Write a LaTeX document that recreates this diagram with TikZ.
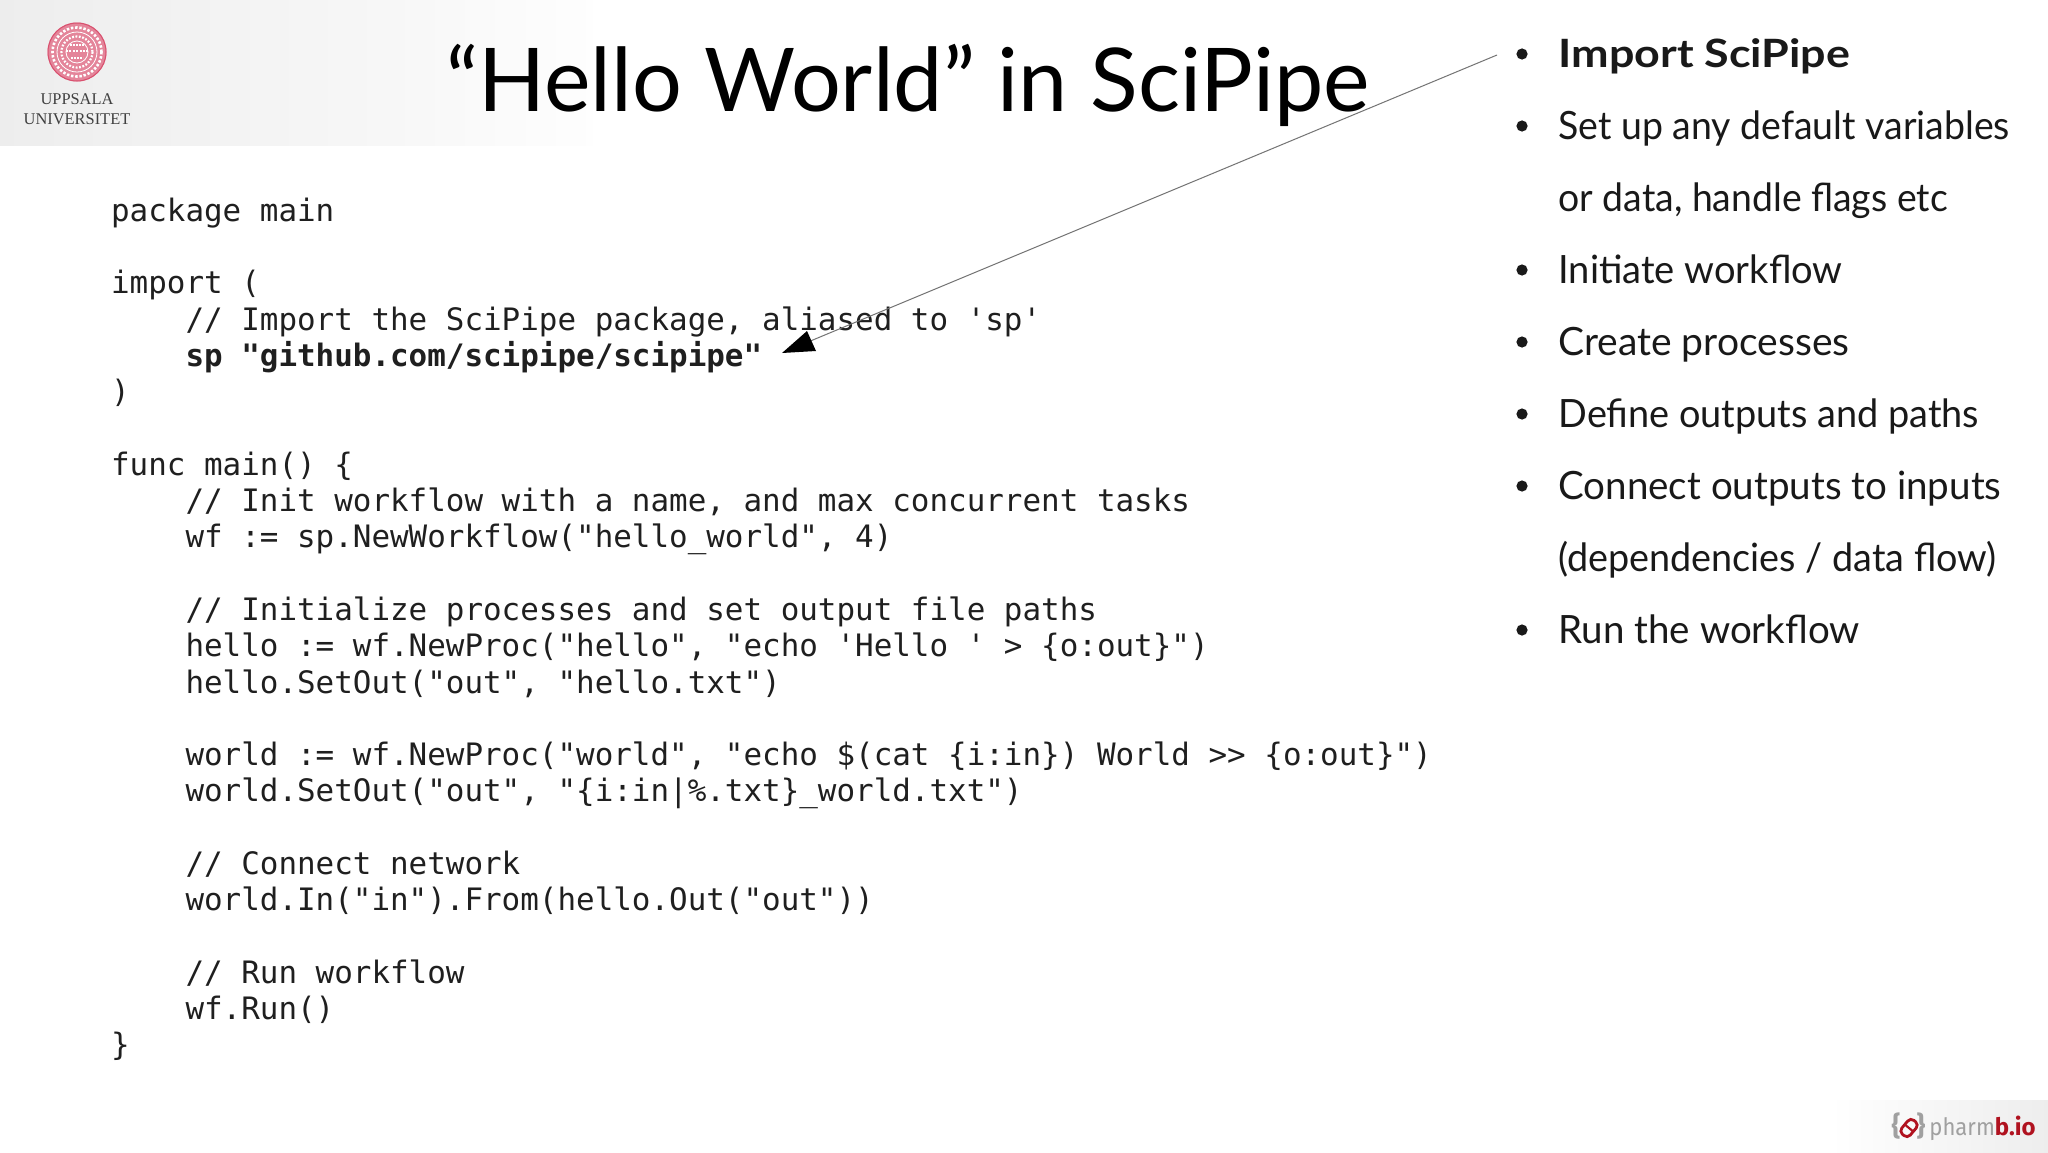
\documentclass[tikz,border=0pt]{standalone}
\usepackage{fontspec}
\usetikzlibrary{arrows.meta,shadings,fadings}
\setmainfont{Lato}
\newfontfamily\codefont{DejaVu Sans Mono}
\newfontfamily\uufont{Liberation Serif}
\newfontfamily\pbfont{Fira Sans}
\newcommand{\lw}[2]{{\addfontfeature{FakeStretch=#1}#2}}
\definecolor{seal}{HTML}{D9506E}
\definecolor{pbgray}{HTML}{A0A0A0}
\definecolor{pbred}{HTML}{B0121F}
\tikzset{
  code/.style={anchor=base west,inner sep=0pt,font=\codefont\fontsize{15.45}{18}\selectfont,text=black!88},
  bulletitem/.style={anchor=base west,inner sep=0pt,font=\fontsize{19.5}{24}\selectfont,text=black!90},
  bulletdot/.style={circle,fill=black!90,inner sep=0pt,minimum size=5.6pt},
  uutext/.style={inner sep=0pt,text=black!75,font=\uufont\fontsize{8.2}{10}\selectfont},
  pbtext/.style={anchor=base west,inner sep=0pt,font=\pbfont\fontsize{12}{14}\selectfont},
  pbbrace/.style={inner sep=0pt,anchor=base,text=pbgray,font=\pbfont\bfseries\fontsize{13.5}{15}\selectfont},
}
\begin{document}
\begin{tikzpicture}[x=0.5pt,y=-0.5pt]
\useasboundingbox (0,0) rectangle (2048,1152);
\fill[white] (0,0) rectangle (2048,1152);
% logo panel
\fill[left color=black!7,right color=black!3] (0,0) rectangle (400,145);
\fill[left color=black!3,right color=black!0.5] (400,0) rectangle (592,145);
\fill[left color=white,right color=black!7] (1830,1100) rectangle (2048,1152);
% seal
\fill[seal!70] (77,52) circle (29.5);
\draw[white,line width=1.3pt,dash pattern=on 1.2pt off 0.9pt] (77,52) circle (24.5);
\draw[seal,line width=0.5pt] (77,52) circle (29);
\draw[white,line width=0.4pt] (77,52) circle (20);
\draw[white,line width=1.1pt,dash pattern=on 0.9pt off 0.8pt] (77,52) circle (15.5);
\draw[white,line width=0.4pt] (77,52) circle (11);
\draw[white,line width=1pt,dash pattern=on 1pt off 0.7pt] (66,51) -- (88,51);
\draw[white,line width=0.7pt,dash pattern=on 0.8pt off 0.7pt] (77,51) ++(-7,-6) -- ++(14,0);
\draw[white,line width=0.7pt,dash pattern=on 0.8pt off 0.7pt] (77,51) ++(-6,7) -- ++(12,0);
\node[uutext] (uu1) at (77,99) {UPPSALA};
\node[uutext] (uu2) at (77,119) {UNIVERSITET};
% title
\node[anchor=base,inner sep=0pt,text=black,font=\fontsize{44}{50}\selectfont] (title) at (908,111) {“Hello World” in SciPipe};
% code
\node[code] (c0) at (110.7,221.3) {package main};
\node[code] (c2) at (110.7,293.9) {import (};
\node[code] (c3) at (110.7,330.2) {\ \ \ \ // Import the SciPipe package, aliased to 'sp'};
\node[code] (c4) at (110.7,366.5) {\ \ \ \ \textbf{sp "github.com/scipipe/scipipe"}};
\node[code] (c5) at (110.7,402.7) {)};
\node[code] (c7) at (110.7,475.3) {func main() \{};
\node[code] (c8) at (110.7,511.6) {\ \ \ \ // Init workflow with a name, and max concurrent tasks};
\node[code] (c9) at (110.7,547.9) {\ \ \ \ wf := sp.NewWorkflow("hello\_world", 4)};
\node[code] (c11) at (110.7,620.4) {\ \ \ \ // Initialize processes and set output file paths};
\node[code] (c12) at (110.7,656.7) {\ \ \ \ hello := wf.NewProc("hello", "echo 'Hello ' > \{o:out\}")};
\node[code] (c13) at (110.7,693) {\ \ \ \ hello.SetOut("out", "hello.txt")};
\node[code] (c15) at (110.7,765.5) {\ \ \ \ world := wf.NewProc("world", "echo \$(cat \{i:in\}) World >> \{o:out\}")};
\node[code] (c16) at (110.7,801.8) {\ \ \ \ world.SetOut("out", "\{i:in|\%.txt\}\_world.txt")};
\node[code] (c18) at (110.7,874.4) {\ \ \ \ // Connect network};
\node[code] (c19) at (110.7,910.6) {\ \ \ \ world.In("in").From(hello.Out("out"))};
\node[code] (c21) at (110.7,983.2) {\ \ \ \ // Run workflow};
\node[code] (c22) at (110.7,1019.5) {\ \ \ \ wf.Run()};
\node[code] (c23) at (110.7,1055.8) {\}};
% bullets
\node[bulletdot] (d1) at (1522,54) {};
\node[bulletitem] (b1) at (1558,67) {\lw{1.15}{\textbf{Import SciPipe}}};
\node[bulletdot] (d2) at (1522,126) {};
\node[bulletitem] (b2) at (1558,139) {\lw{0.96}{Set up any default variables}};
\node[bulletitem] (b2b) at (1558,211) {\lw{0.958}{or data, handle flags etc}};
\node[bulletdot] (d3) at (1522,270) {};
\node[bulletitem] (b3) at (1558,283) {\lw{0.976}{Initiate workflow}};
\node[bulletdot] (d4) at (1522,342) {};
\node[bulletitem] (b4) at (1558,355) {Create processes};
\node[bulletdot] (d5) at (1522,414) {};
\node[bulletitem] (b5) at (1558,427) {\lw{0.971}{Define outputs and paths}};
\node[bulletdot] (d6) at (1522,486) {};
\node[bulletitem] (b6) at (1558,499) {\lw{0.988}{Connect outputs to inputs}};
\node[bulletitem] (b6b) at (1558,571) {\lw{0.968}{(dependencies / data flow)}};
\node[bulletdot] (d7) at (1522,630) {};
\node[bulletitem] (b7) at (1558,643) {\lw{0.987}{Run the workflow}};
% arrow
\coordinate (arrowstart) at (1497,55);
\coordinate (arrowtip) at (782,353);
\draw[black!55,line width=0.5pt] (arrowstart) -- (808,342);
\fill[black] (arrowtip) -- (807,331) -- (816,351) -- cycle;
% pharmb.io
\node[pbbrace] (pb0) at (1896,1135) {\{};
\node[pbbrace] (pb1) at (1921,1135) {\}};
\begin{scope}[shift={(1909,1128)},rotate=50]
\draw[pbred,line width=1.4pt,rounded corners=2.2pt] (-9,-5.5) rectangle (9,5.5);
\draw[pbred,line width=1.1pt] (0,-5.5) -- (0,5.5);
\end{scope}
\node[pbtext] (pb2) at (1929,1135) {\textcolor{pbgray}{\lw{0.92}{pharm}}\textcolor{pbred}{\textbf{b.io}}};
\end{tikzpicture}
\end{document}
